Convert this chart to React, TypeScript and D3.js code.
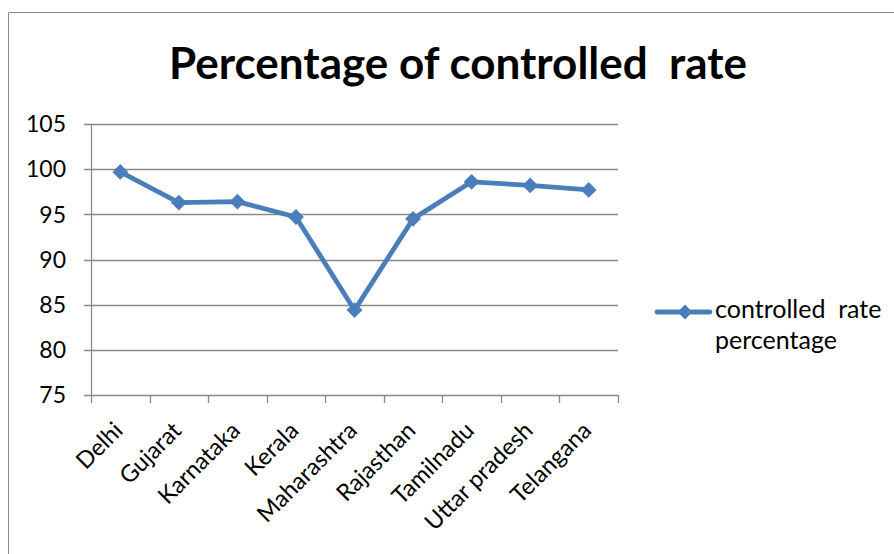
import React, { useEffect, useRef } from 'react';
import * as d3 from 'd3';

const states = ['Delhi', 'Gujarat', 'Karnataka', 'Kerala', 'Maharashtra', 'Rajasthan', 'Tamilnadu', 'Uttar pradesh', 'Telangana'];
const controlledRate = [99.7, 96.3, 96.4, 94.7, 84.4, 94.5, 98.6, 98.2, 97.7];
const yTicks = [75, 80, 85, 90, 95, 100, 105];
const seriesName = ['controlled  rate', 'percentage'];
const chartTitle = 'Percentage of controlled  rate';

export default function App() {
    const svgRef = useRef<SVGSVGElement>(null);

    useEffect(() => {
        const svg = d3.select(svgRef.current);
        svg.selectAll('*').remove();

        const width = 894;
        const height = 554;
        const margin = { top: 124, right: 276, bottom: 159, left: 91 };
        const font = 'Lato, "Open Sans", sans-serif';
        const grey = '#888888';
        const blue = '#4a7ebb';

        svg.append('rect').attr('width', width).attr('height', height).attr('fill', '#ffffff');

        // chart frame
        svg.append('path')
            .attr('d', `M8.5,${height} V12.5 H${width}`)
            .attr('fill', 'none')
            .attr('stroke', grey)
            .attr('stroke-width', 1);

        const x = d3.scaleBand<string>()
            .domain(states)
            .range([margin.left, width - margin.right]);

        const y = d3.scaleLinear()
            .domain([75, 105])
            .range([height - margin.bottom, margin.top]);

        // gridlines
        svg.append('g')
            .selectAll('line')
            .data(yTicks)
            .join('line')
            .attr('x1', margin.left - 7)
            .attr('x2', width - margin.right)
            .attr('y1', (d) => Math.round(y(d)) + 0.5)
            .attr('y2', (d) => Math.round(y(d)) + 0.5)
            .attr('stroke', grey)
            .attr('stroke-width', 1.3);

        // y axis line
        svg.append('line')
            .attr('x1', margin.left + 0.5)
            .attr('x2', margin.left + 0.5)
            .attr('y1', y(105))
            .attr('y2', y(75))
            .attr('stroke', grey)
            .attr('stroke-width', 1.3);

        // x ticks at band boundaries
        const bounds = states.map((s) => x(s) as number).concat([width - margin.right]);
        svg.append('g')
            .selectAll('line')
            .data(bounds)
            .join('line')
            .attr('x1', (d) => Math.round(d) + 0.5)
            .attr('x2', (d) => Math.round(d) + 0.5)
            .attr('y1', y(75))
            .attr('y2', y(75) + 8)
            .attr('stroke', grey)
            .attr('stroke-width', 1.3);

        // y tick labels
        svg.append('g')
            .selectAll('text')
            .data(yTicks)
            .join('text')
            .attr('x', margin.left - 25)
            .attr('y', (d) => y(d))
            .attr('dy', '0.36em')
            .attr('text-anchor', 'end')
            .attr('font-family', font)
            .attr('font-size', 23)
            .attr('fill', '#000')
            .text((d) => d);

        // x tick labels, rotated
        svg.append('g')
            .selectAll('text')
            .data(states)
            .join('text')
            .attr('transform', (d) => `translate(${(x(d) as number) + x.bandwidth() / 2 + 4},${y(75) + 37}) rotate(-45)`)
            .attr('text-anchor', 'end')
            .attr('font-family', font)
            .attr('font-size', 23.5)
            .attr('fill', '#000')
            .text((d) => d);

        const cx = (i: number) => (x(states[i]) as number) + x.bandwidth() / 2;

        const line = d3.line<number>()
            .x((_, i) => cx(i))
            .y((d) => y(d));

        svg.append('path')
            .datum(controlledRate)
            .attr('d', line)
            .attr('fill', 'none')
            .attr('stroke', blue)
            .attr('stroke-width', 4.8)
            .attr('stroke-linejoin', 'round');

        const diamond = d3.symbol().type(d3.symbolDiamond2).size(160);
        svg.append('g')
            .selectAll('path')
            .data(controlledRate)
            .join('path')
            .attr('transform', (d, i) => `translate(${cx(i)},${y(d)})`)
            .attr('d', diamond)
            .attr('fill', blue);

        // legend
        const lg = svg.append('g').attr('transform', 'translate(657,312)');
        lg.append('line')
            .attr('x1', 0)
            .attr('x2', 53)
            .attr('stroke', blue)
            .attr('stroke-width', 4.8)
            .attr('stroke-linecap', 'round');
        lg.append('path')
            .attr('transform', 'translate(28,0)')
            .attr('d', d3.symbol().type(d3.symbolDiamond2).size(140))
            .attr('fill', blue);
        lg.selectAll('text')
            .data(seriesName)
            .join('text')
            .attr('x', 58)
            .attr('y', (_, i) => 6 + i * 31)
            .attr('font-family', font)
            .attr('font-size', 25)
            .attr('fill', '#000')
            .style('white-space', 'pre')
            .text((d) => d);

        // title
        svg.append('text')
            .attr('x', 458)
            .attr('y', 79)
            .attr('text-anchor', 'middle')
            .attr('font-family', font)
            .attr('font-weight', 'bold')
            .attr('font-size', 44)
            .attr('fill', '#000')
            .style('white-space', 'pre')
            .text(chartTitle);
    }, []);

    return (
        <svg ref={svgRef} width={894} height={554} style={{ position: 'absolute', left: 0, top: 0 }} />
    );
}
